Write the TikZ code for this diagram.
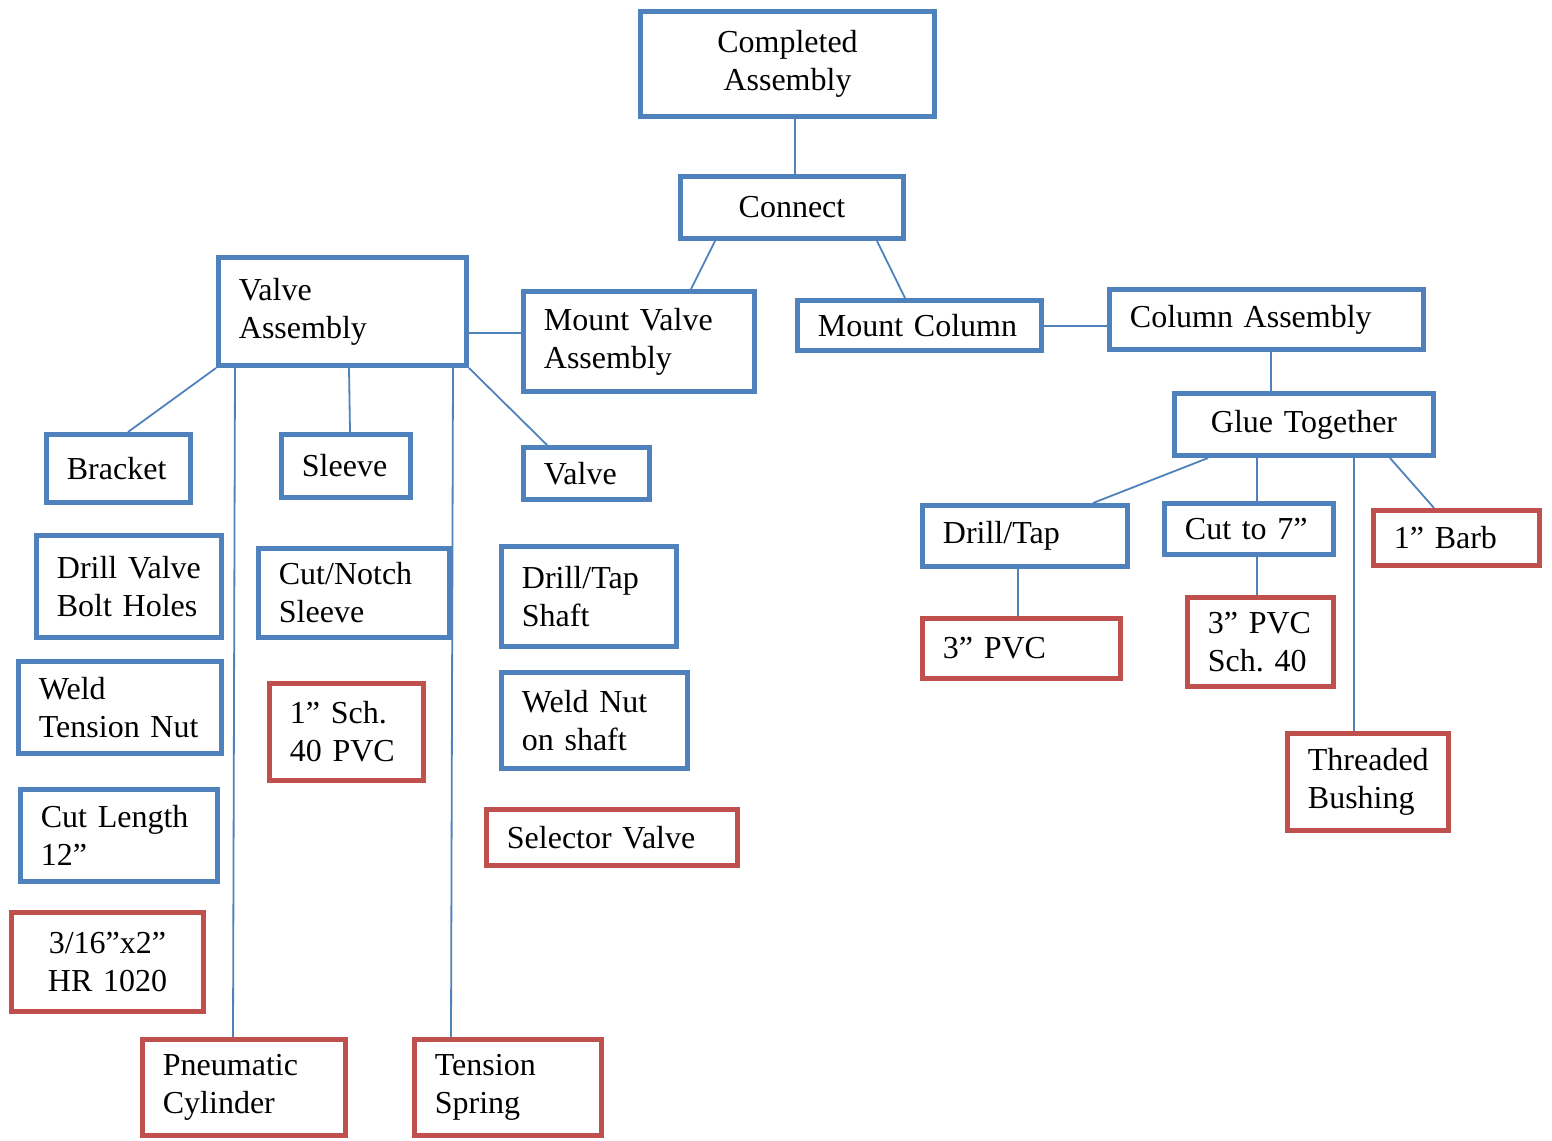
\documentclass[tikz,border=0pt]{standalone}
\usepackage{fontspec}
\setmainfont{Liberation Serif}
\usetikzlibrary{calc}
\definecolor{boxblue}{RGB}{79,129,189}
\definecolor{boxred}{RGB}{192,80,77}
\tikzstyle{stepbox}=[draw=boxblue, line width=2.5pt, anchor=north west, inner xsep=10.2pt, inner ysep=2pt, align=left, font=\fontsize{16}{19}\selectfont]
\tikzstyle{partbox}=[stepbox, draw=boxred]
\tikzstyle{link}=[draw=boxblue, line width=0.9pt]
\newcommand{\drawpart}[7]{

\pgfmathsetmacro{\partw}{(#5-#3)/2-2.5-20.4}
\pgfmathsetmacro{\parth}{(#6-#4)/2-2.5}
\node[#2, text width=\partw pt, minimum height=\parth pt] (#1) at (#3,#4) {#7};
}

\begin{document}
\begin{tikzpicture}[x=0.5pt, y=-0.5pt]
	\useasboundingbox (0,0) rectangle (1552,1140);
	% steps
	\drawpart{ca}{stepbox, align=center}{638}{9}{937}{119}{Completed\\Assembly}
	\drawpart{cn}{stepbox, align=center}{678}{174}{906}{241}{Connect}
	\drawpart{va}{stepbox}{216}{255}{469}{368}{Valve\\Assembly}
	\drawpart{mva}{stepbox}{521}{289}{757}{394}{Mount~Valve\\Assembly}
	\drawpart{mc}{stepbox}{795}{298}{1044}{353}{Mount~Column}
	\drawpart{cla}{stepbox}{1107}{287}{1426}{352}{Column~Assembly}
	\drawpart{gt}{stepbox, align=center}{1172}{391}{1436}{458}{Glue~Together}
	\drawpart{bk}{stepbox}{44}{432}{193}{505}{Bracket}
	\drawpart{sl}{stepbox}{279}{432}{413}{500}{Sleeve}
	\drawpart{vl}{stepbox}{521}{445}{652}{502}{Valve}
	\drawpart{dvb}{stepbox}{34}{533}{224}{640}{Drill~Valve\\Bolt~Holes}
	\drawpart{cns}{stepbox}{256}{546}{452}{640}{Cut/Notch\\Sleeve}
	\drawpart{dts}{stepbox}{499}{544}{679}{649}{Drill/Tap\\Shaft}
	\drawpart{wtn}{stepbox}{16}{659}{224}{756}{Weld\\Tension~Nut}
	\drawpart{wns}{stepbox}{499}{670}{690}{771}{Weld~Nut\\on~shaft}
	\drawpart{cl}{stepbox}{18}{787}{220}{884}{Cut~Length\\12”}
	\drawpart{dt}{stepbox}{920}{503}{1130}{569}{Drill/Tap}
	\drawpart{ct}{stepbox}{1162}{501}{1336}{557}{Cut~to~7”}
	% parts
	\drawpart{pvc1}{partbox}{267}{681}{426}{783}{1”~Sch.\\40~PVC}
	\drawpart{sv}{partbox}{484}{807}{740}{868}{Selector~Valve}
	\drawpart{hr}{partbox, align=center}{9}{910}{206}{1014}{3/16”x2”\\HR~1020}
	\drawpart{pc}{partbox}{140}{1037}{348}{1138}{Pneumatic\\Cylinder}
	\drawpart{ts}{partbox}{412}{1037}{604}{1138}{Tension\\Spring}
	\drawpart{barb}{partbox}{1371}{508}{1542}{568}{1”~Barb}
	\drawpart{pvc3}{partbox}{920}{616}{1123}{681}{3”~PVC}
	\drawpart{pvc3s}{partbox}{1185}{595}{1336}{689}{3”~PVC\\Sch.~40}
	\drawpart{tb}{partbox}{1285}{731}{1451}{833}{Threaded\\Bushing}
	% links
	\draw[link] ($(ca.south west)+(157,0)$) -- ($(cn.north west)+(117,0)$);
	\draw[link] ($(cn.south west)+(37,0)$) -- ($(mva.north west)+(170,0)$);
	\draw[link] ($(cn.south east)+(-29,0)$) -- ($(mc.north west)+(110,0)$);
	\draw[link] ($(va.north east)+(0,78)$) -- ($(mva.north west)+(0,44)$);
	\draw[link] ($(mc.north east)+(0,28)$) -- ($(cla.north west)+(0,39)$);
	\draw[link] ($(cla.south west)+(164,0)$) -- ($(gt.north west)+(99,0)$);
	\draw[link] (va.south west) -- ($(bk.north west)+(84,0)$);
	\draw[link] ($(va.south west)+(133,0)$) -- ($(sl.north west)+(71,0)$);
	\draw[link] (va.south east) -- ($(vl.north west)+(26,0)$);
	\draw[link] ($(va.south west)+(19,0)$) -- ($(pc.north west)+(93,0)$);
	\draw[link] ($(va.south west)+(237,0)$) -- ($(ts.north west)+(39,0)$);
	\draw[link] ($(gt.south west)+(36,0)$) -- ($(dt.north west)+(173,0)$);
	\draw[link] ($(gt.south west)+(85,0)$) -- ($(ct.north west)+(95,0)$);
	\draw[link] ($(ct.south west)+(95,0)$) -- ($(pvc3s.north west)+(72,0)$);
	\draw[link] ($(gt.south west)+(182,0)$) -- ($(tb.north west)+(69,0)$);
	\draw[link] ($(gt.south west)+(218,0)$) -- ($(barb.north west)+(63,0)$);
	\draw[link] ($(dt.south west)+(98,0)$) -- ($(pvc3.north west)+(98,0)$);
\end{tikzpicture}
\end{document}
